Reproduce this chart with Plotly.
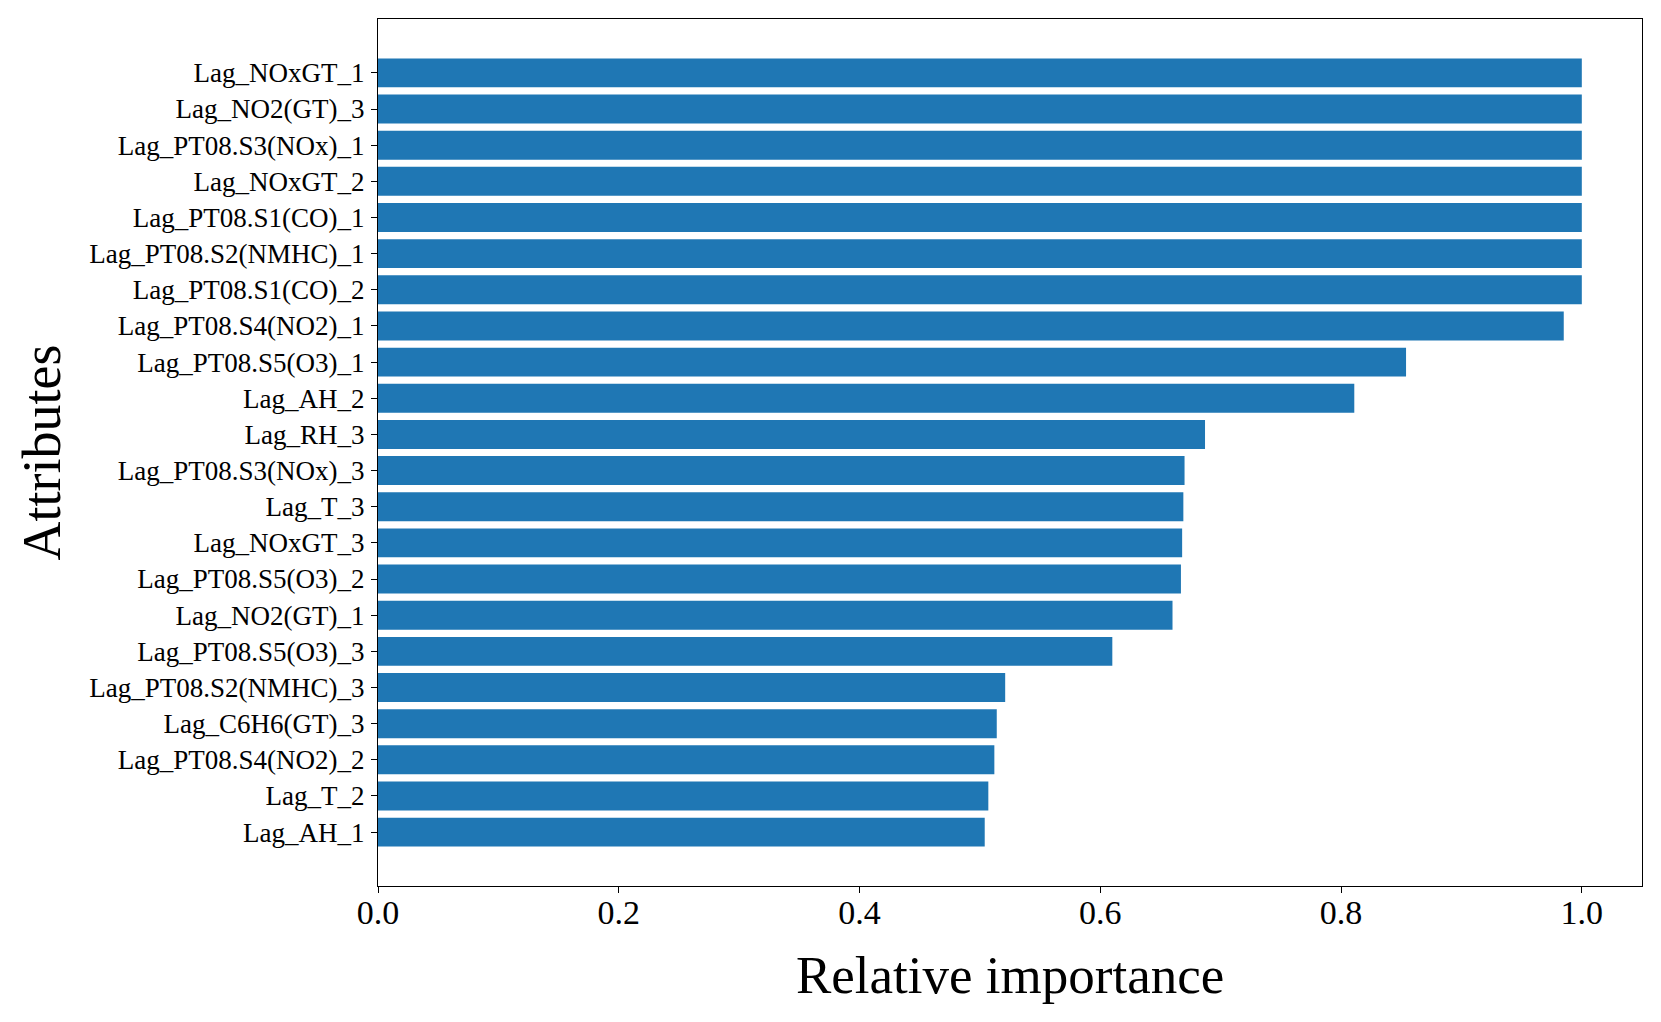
import plotly.graph_objects as go

FONT = "Liberation Serif"
BAR_COLOR = "#1f77b4"

attributes = [
    "Lag_NOxGT_1",
    "Lag_NO2(GT)_3",
    "Lag_PT08.S3(NOx)_1",
    "Lag_NOxGT_2",
    "Lag_PT08.S1(CO)_1",
    "Lag_PT08.S2(NMHC)_1",
    "Lag_PT08.S1(CO)_2",
    "Lag_PT08.S4(NO2)_1",
    "Lag_PT08.S5(O3)_1",
    "Lag_AH_2",
    "Lag_RH_3",
    "Lag_PT08.S3(NOx)_3",
    "Lag_T_3",
    "Lag_NOxGT_3",
    "Lag_PT08.S5(O3)_2",
    "Lag_NO2(GT)_1",
    "Lag_PT08.S5(O3)_3",
    "Lag_PT08.S2(NMHC)_3",
    "Lag_C6H6(GT)_3",
    "Lag_PT08.S4(NO2)_2",
    "Lag_T_2",
    "Lag_AH_1",
]
importance = [
    1.0, 1.0, 1.0, 1.0, 1.0, 1.0, 1.0,
    0.985, 0.854, 0.811, 0.687, 0.670, 0.669, 0.668, 0.667, 0.660,
    0.610, 0.521, 0.514, 0.512, 0.507, 0.504,
]
x_ticks = [0.0, 0.2, 0.4, 0.6, 0.8, 1.0]

n = len(attributes)
pad = 0.05 * (n - 1 + 0.8)

fig = go.Figure()
fig.add_trace(
    go.Bar(
        x=importance,
        y=attributes,
        orientation="h",
        marker={"color": BAR_COLOR, "line": {"width": 0}},
        showlegend=False,
    )
)

axis_common = {
    "showline": True,
    "linecolor": "black",
    "linewidth": 1.3,
    "mirror": True,
    "ticks": "outside",
    "ticklen": 6,
    "tickwidth": 1.2,
    "tickcolor": "black",
    "showgrid": False,
    "zeroline": False,
}

# the page body has an 8px margin, so the figure is drawn 16px smaller
fig.update_layout(
    width=1645,
    height=1006,
    template="plotly_white",
    plot_bgcolor="white",
    paper_bgcolor="white",
    bargap=0.2,
    margin={"l": 370, "r": 11, "t": 11, "b": 128},
    font={"family": FONT, "color": "black"},
    xaxis={
        **axis_common,
        "range": [0, 1.05],
        "tickvals": x_ticks,
        "ticktext": [f"{v:.1f}" for v in x_ticks],
        "tickfont": {"size": 34, "family": FONT},
        "ticklabelstandoff": -10,
    },
    yaxis={
        **axis_common,
        "type": "category",
        "categoryorder": "array",
        "categoryarray": attributes,
        "range": [n - 1 + 0.4 + pad, -0.4 - pad],
        "tickfont": {"size": 27, "family": FONT},
        "ticklabelstandoff": 1,
    },
    annotations=[
        {
            "text": "Relative importance",
            "xref": "paper",
            "yref": "paper",
            "x": 0.5,
            "y": -0.103,
            "xanchor": "center",
            "yanchor": "middle",
            "showarrow": False,
            "font": {"size": 53, "family": FONT},
        },
        {
            "text": "Attributes",
            "xref": "paper",
            "yref": "paper",
            "x": -0.2666,
            "y": 0.5,
            "xanchor": "center",
            "yanchor": "middle",
            "textangle": -90,
            "showarrow": False,
            "font": {"size": 54, "family": FONT},
        },
    ],
)

fig.write_html("out.html")
